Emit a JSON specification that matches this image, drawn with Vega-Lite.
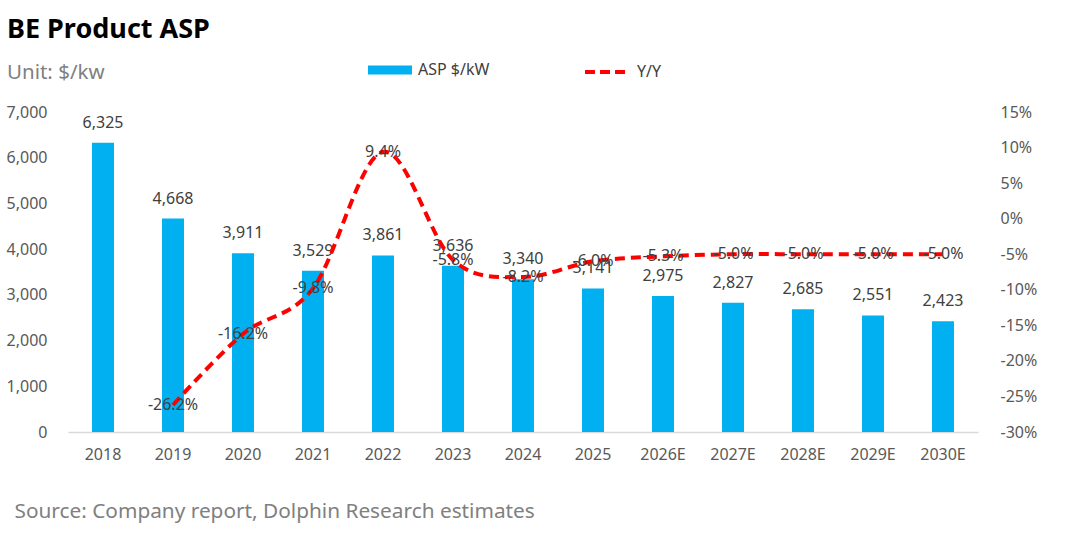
{
  "$schema": "https://vega.github.io/schema/vega-lite/v6.json",
  "width": 910,
  "height": 320,
  "autosize": {"type": "none"},
  "padding": {"left": 68, "top": 112, "right": 102, "bottom": 114},
  "background": "white",
  "config": {
    "font": "Noto Sans",
    "view": {"stroke": null},
    "axis": {"grid": false, "ticks": false, "labelFont": "Noto Sans", "labelFontSize": 16, "labelColor": "#595959", "labelOverlap": false}
  },
  "title": {
    "text": "BE Product ASP",
    "subtitle": "Unit: $/kw",
    "anchor": "start",
    "frame": "group",
    "dx": -61,
    "dy": 50,
    "fontSize": 27,
    "fontWeight": "bold",
    "color": "#000000",
    "subtitleFontSize": 20.5,
    "subtitleColor": "#808080",
    "subtitlePadding": 19,
    "offset": 14
  },
  "data": {
    "values": [
      {"year": "2018", "asp": 6325, "yoy": null},
      {"year": "2019", "asp": 4668, "yoy": -26.2},
      {"year": "2020", "asp": 3911, "yoy": -16.2},
      {"year": "2021", "asp": 3529, "yoy": -9.8},
      {"year": "2022", "asp": 3861, "yoy": 9.4},
      {"year": "2023", "asp": 3636, "yoy": -5.8},
      {"year": "2024", "asp": 3340, "yoy": -8.2},
      {"year": "2025", "asp": 3141, "yoy": -6.0},
      {"year": "2026E", "asp": 2975, "yoy": -5.3},
      {"year": "2027E", "asp": 2827, "yoy": -5.0},
      {"year": "2028E", "asp": 2685, "yoy": -5.0},
      {"year": "2029E", "asp": 2551, "yoy": -5.0},
      {"year": "2030E", "asp": 2423, "yoy": -5.0}
    ]
  },
  "encoding": {
    "x": {
      "field": "year",
      "type": "ordinal",
      "sort": null,
      "scale": {"paddingInner": 0.686, "paddingOuter": 0.343},
      "axis": {
        "labelAngle": 0,
        "labelPadding": 14,
        "domainColor": "#D9D9D9",
        "domainWidth": 1.5,
        "title": "Source: Company report, Dolphin Research estimates",
        "titleFont": "Noto Sans",
        "titleFontSize": 20.8,
        "titleFontWeight": "normal",
        "titleColor": "#808080",
        "titleAlign": "left",
        "titleAnchor": "start",
        "titleBaseline": "alphabetic",
        "titleX": -54,
        "titleY": 85
      }
    }
  },
  "layer": [
    {
      "layer": [
        {
          "mark": {"type": "bar", "color": "#00B0F0"},
          "encoding": {
            "y": {
              "field": "asp",
              "type": "quantitative",
              "scale": {"domain": [0, 7000], "nice": false},
              "axis": {"title": null, "values": [0, 1000, 2000, 3000, 4000, 5000, 6000, 7000], "format": ",d", "domain": false, "labelPadding": 21, "labelOverlap": false}
            },
            "fill": {
              "datum": "ASP $/kW",
              "scale": {"range": ["#00B0F0"]},
              "legend": {
                "title": null,
                "orient": "none",
                "legendX": 300,
                "legendY": -64,
                "symbolType": "M-1,-0.2H1V0.2H-1Z",
                "symbolSize": 1936,
                "symbolStrokeWidth": 0,
                "labelFontSize": 16,
                "labelColor": "#404040",
                "labelOffset": 6
              }
            }
          }
        },
        {
          "mark": {"type": "text", "baseline": "alphabetic", "dy": -15, "fontSize": 16, "color": "#404040"},
          "encoding": {
            "y": {"field": "asp", "type": "quantitative"},
            "text": {"field": "asp", "type": "quantitative", "format": ",d"}
          }
        }
      ]
    },
    {
      "transform": [
        {"filter": "datum.yoy != null"},
        {"calculate": "replace(format(datum.yoy, '.1f'), '\u2212', '-') + '%'", "as": "yoyLabel"}
      ],
      "layer": [
        {
          "mark": {"type": "line", "interpolate": "cardinal", "strokeWidth": 4, "strokeDash": [10, 6]},
          "encoding": {
            "y": {
              "field": "yoy",
              "type": "quantitative",
              "scale": {"domain": [-30, 15], "nice": false},
              "axis": {"title": null, "orient": "right", "values": [-30, -25, -20, -15, -10, -5, 0, 5, 10, 15], "labelExpr": "datum.value + '%'", "domain": false, "labelPadding": 22, "labelOverlap": false, "labelBound": false}
            },
            "stroke": {
              "datum": "Y/Y",
              "scale": {"range": ["#FF0000"]},
              "legend": {
                "title": null,
                "orient": "none",
                "legendX": 515,
                "legendY": -63,
                "symbolType": "stroke",
                "symbolSize": 1764,
                "symbolStrokeWidth": 4,
                "symbolDash": [10, 5],
                "labelFontSize": 16,
                "labelColor": "#404040",
                "labelOffset": 8
              }
            }
          }
        },
        {
          "mark": {"type": "text", "baseline": "middle", "fontSize": 16, "color": "#404040"},
          "encoding": {
            "y": {"field": "yoy", "type": "quantitative", "axis": {"title": null, "orient": "right", "values": [-30, -25, -20, -15, -10, -5, 0, 5, 10, 15], "labelExpr": "datum.value + '%'", "domain": false, "labelPadding": 22, "labelOverlap": false}},
            "text": {"field": "yoyLabel", "type": "nominal"}
          }
        }
      ]
    }
  ],
  "resolve": {"scale": {"y": "independent"}}
}
